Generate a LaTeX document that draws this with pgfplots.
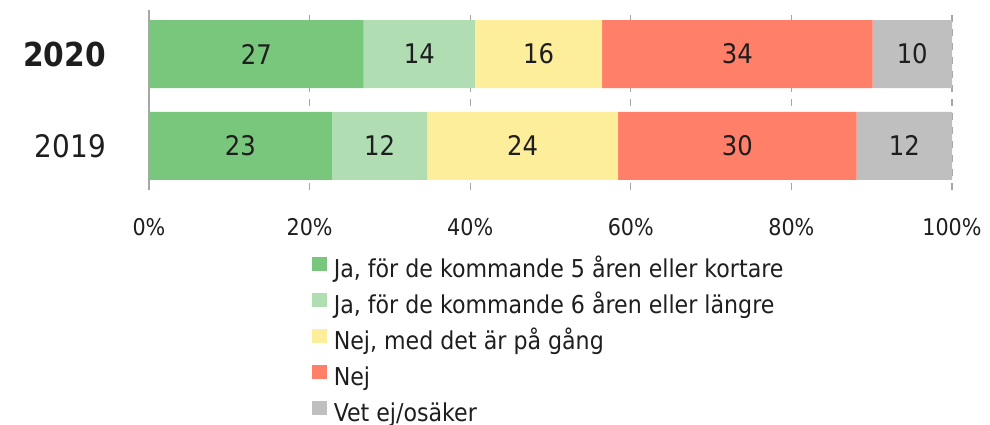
\documentclass[border=0pt]{standalone}
\usepackage{fontspec}
\setmainfont{DejaVu Sans Condensed}
\usepackage{pgfplots}
\usepackage{pgfplotstable}
\pgfplotsset{compat=1.18}

\definecolor{cJa5}{HTML}{78C77C}
\definecolor{cJa6}{HTML}{B0DEB2}
\definecolor{cPaGang}{HTML}{FDEE9C}
\definecolor{cNej}{HTML}{FF7F69}
\definecolor{cVetEj}{HTML}{BFBFBF}
\definecolor{txt}{HTML}{1E1E1E}
\definecolor{gridc}{HTML}{A6A6A6}

% andelar per år (summerar till 101 p.g.a. avrundning)
\pgfplotstableread{
y  ja5 ja6 pagang nej vetej
0  23  12  24     30  12
1  27  14  16     34  10
}\svar

\begin{document}
\begin{tikzpicture}
\useasboundingbox (-74.5pt,-117pt) rectangle (420.5pt,95pt);
\begin{axis}[
  at={(0,0)}, anchor=south west,
  scale only axis,
  width=401.5pt, height=90pt,
  xbar stacked,
  bar width=34pt,
  xmin=0, xmax=101,
  ymin=-0.48, ymax=1.48,
  xtick={0,20.2,40.4,60.6,80.8,101},
  xticklabels={0\%,20\%,40\%,60\%,80\%,100\%},
  ytick={0,1},
  yticklabels={2019,{\fontsize{16.5}{18}\selectfont\textbf{2020}}},
  major tick length=0pt,
  xmajorgrids,
  grid style={gridc, dash pattern=on 3.5pt off 3.5pt, line width=0.6pt},
  axis lines*=left,
  x axis line style={draw=none},
  y axis line style={gridc, line width=0.8pt},
  /pgf/number format/assume math mode=true,
  xticklabel style={font=\fontsize{11.5}{13}\selectfont, text=txt, yshift=-10.5pt},
  yticklabel style={font=\fontsize{15.5}{18}\selectfont, text=txt, xshift=-18pt},
  nodes near coords,
  every node near coord/.append style={
    font=\fontsize{13.5}{16}\selectfont, text=txt, anchor=center},
  legend style={
    at={(0.2025,-0.368)}, anchor=north west,
    draw=none, fill=none, inner sep=0pt,
    font=\fontsize{12.3}{14}\selectfont, text=txt,
    row sep=4.7pt,
    nodes={inner sep=0pt, text height=10pt, text depth=3pt},
    /tikz/every odd column/.append style={column sep=3.5pt}},
  legend cell align=left,
  legend image code/.code={\fill[#1,draw=none] (0pt,-0.6pt) rectangle (7.4pt,6.8pt);},
]
\addplot[fill=cJa5, draw=none] table[x=ja5, y=y, meta=ja5] {\svar};
\addplot[fill=cJa6, draw=none] table[x=ja6, y=y, meta=ja6] {\svar};
\addplot[fill=cPaGang, draw=none] table[x=pagang, y=y, meta=pagang] {\svar};
\addplot[fill=cNej, draw=none] table[x=nej, y=y, meta=nej] {\svar};
\addplot[fill=cVetEj, draw=none] table[x=vetej, y=y, meta=vetej] {\svar};
\legend{{Ja, för de kommande 5 åren eller kortare},
        {Ja, för de kommande 6 åren eller längre},
        {Nej, med det är på gång},
        {Nej},
        {Vet ej/osäker}}
\end{axis}
\end{tikzpicture}
\end{document}
